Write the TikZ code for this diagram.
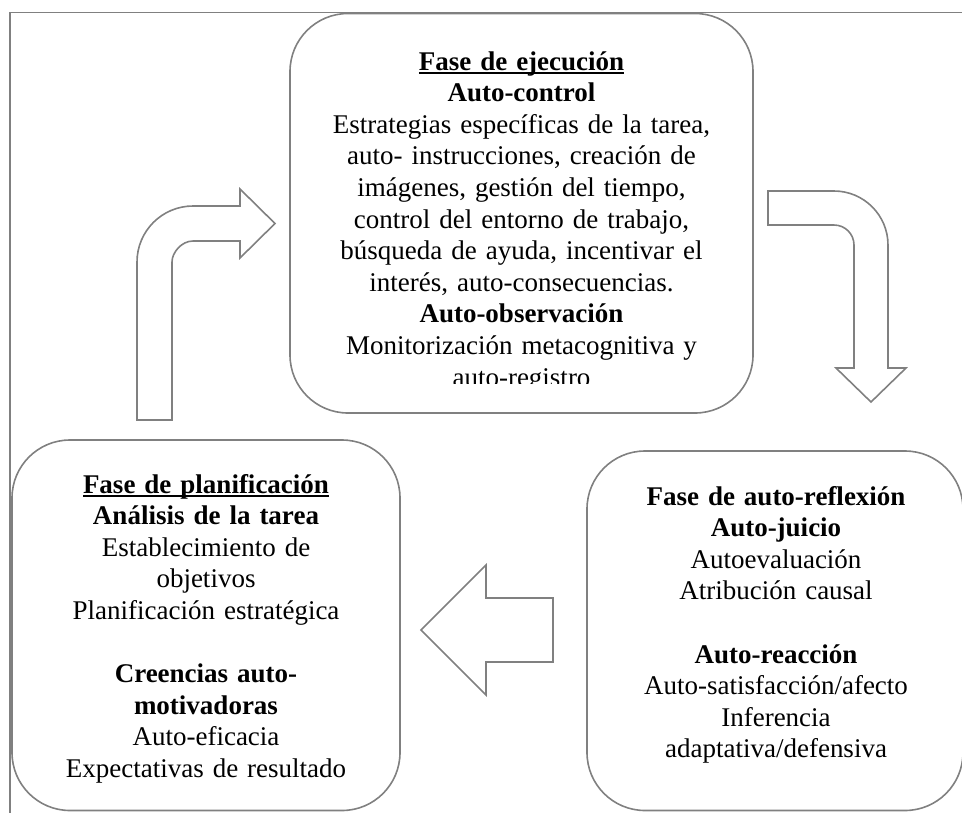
\documentclass[tikz,border=0pt]{standalone}
\usepackage{fontspec}
\setmainfont{Liberation Serif}
\definecolor{linegray}{RGB}{128,128,128}
\newcommand{\ulbox}[1]{\setbox0\hbox{#1}\rlap{\rule[-3.5pt]{\wd0}{1.3pt}}\box0}
\begin{document}
\begin{tikzpicture}[x=1pt,y=-1pt,
  box/.style={draw=linegray, line width=1.6pt, rounded corners=58pt, inner sep=0pt, outer sep=0pt},
  blockarrow/.style={draw=linegray, line width=1.6pt, line join=miter},
  txt/.style={text width=470pt, align=center, anchor=base, inner sep=0pt, font=\fontsize{27}{31.6}\selectfont}]
\clip (0,0) rectangle (962,812);
% outer frame
\draw[linegray, line width=1.4pt] (10,830) -- (10,12.5) -- (980,12.5);
% boxes
\node[box, minimum width=463pt, minimum height=399.5pt] (exec) at (521.5,213.25) {};
\node[box, minimum width=388pt, minimum height=370.5pt] (plan) at (206,625.25) {};
\node[box, minimum width=376pt, minimum height=359.5pt] (refl) at (775,630.75) {};
% texts
\begin{scope}
\clip (290,13) rectangle (753,383.5);
\node[txt] (exectext) at (521.5,70) {\ulbox{\textbf{Fase de ejecución}}\\
\textbf{Auto-control}\\
Estrategias específicas de la tarea,\\
auto- instrucciones, creación de\\
imágenes, gestión del tiempo,\\
control del entorno de trabajo,\\
búsqueda de ayuda, incentivar el\\
interés, auto-consecuencias.\\
\textbf{Auto-observación}\\
Monitorización metacognitiva y\\
auto-registro};
\end{scope}
\node[txt] (plantext) at (206,493) {\ulbox{\textbf{Fase de planificación}}\\
\textbf{Análisis de la tarea}\\
Establecimiento de\\
objetivos\\
Planificación estratégica\\[31.6pt]
\textbf{Creencias auto-}\\
\textbf{motivadoras}\\
Auto-eficacia\\
Expectativas de resultado};
\node[txt] (refltext) at (776,505) {\textbf{Fase de auto-reflexión}\\
\textbf{Auto-juicio}\\
Autoevaluación\\
Atribución causal\\[31.6pt]
\textbf{Auto-reacción}\\
Auto-satisfacción/afecto\\
Inferencia\\
adaptativa/defensiva};
% block arrows
\draw[blockarrow] (137,420) -- (137,262) .. controls (137,231.07) and (162.07,206) .. (193,206)
  -- (240,206) -- (240,189) -- (275,223.5) -- (240,258) -- (240,241) -- (193,241)
  .. controls (181.4,241) and (172,252.6) .. (172,262) -- (172,420) -- cycle;
\draw[blockarrow] (768,191) -- (834,191) .. controls (863.8,191) and (888,215.2) .. (888,245)
  -- (888,368) -- (906,368) -- (871,402) -- (836,368) -- (854,368) -- (854,245)
  .. controls (854,233.95) and (845.05,225) .. (834,225) -- (768,225) -- cycle;
\draw[blockarrow] (553,598) -- (486,598) -- (486,565) -- (421,630) -- (486,695) -- (486,662) -- (553,662) -- cycle;
\end{tikzpicture}
\end{document}
